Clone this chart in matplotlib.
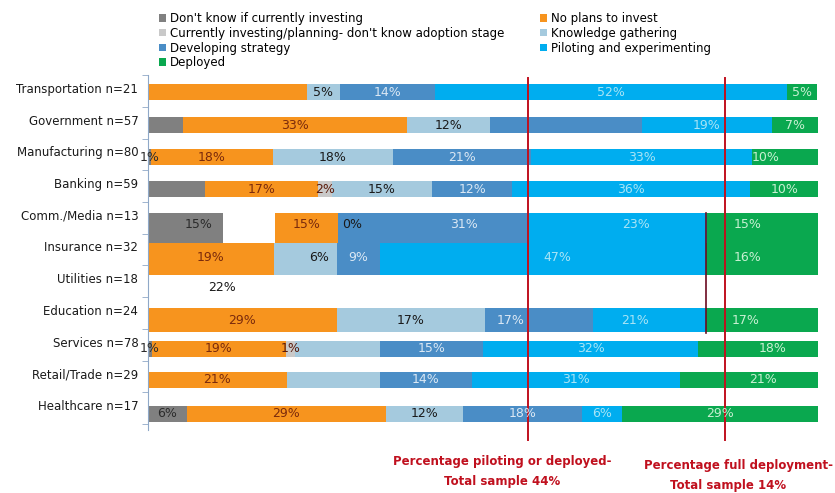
import numpy as np
import matplotlib
matplotlib.use('Agg')
import matplotlib.pyplot as plt
from matplotlib.patches import Patch

plt.rcParams['font.family'] = ['DejaVu Sans']

# Categories (top to bottom)
categories = ['Transportation n=21', 'Government n=57', 'Manufacturing n=80', 'Banking n=59',
              'Comm./Media n=13', 'Insurance n=32', 'Utilities n=18', 'Education n=24',
              'Services n=78', 'Retail/Trade n=29', 'Healthcare n=17']

# Segment widths (percent of bar)
dont_know   = [0,    5.2,  0.4,  8.5, 11.2, 0,    0, 0,    0.6, 0,    5.8]
blank_gap   = [0,    0,    0,    0,    7.8, 0,    0, 0,    0,   0,    0]
no_plans    = [23.7, 33.4, 18.3, 16.9, 9.4, 18.8, 0, 28.2, 20.0, 20.7, 29.7]
currently   = [0,    0,    0,    2.0,  0,    0,    0, 0,    1.3, 0,    0]
knowledge   = [4.9,  12.4, 17.8, 15.0, 0,    9.4,  0, 22.1, 12.7, 13.9, 11.5]
developing  = [14.3, 22.7, 20.6, 12.0, 28.5, 6.4,  0, 16.1, 15.4, 13.7, 17.8]
piloting    = [52.4, 19.4, 33.1, 35.5, 26.6, 48.7, 0, 16.9, 32.1, 31.1, 6.0]
deployed    = [4.6,  6.9,  9.9,  10.1, 16.5, 16.7, 0, 16.7, 17.9, 20.6, 29.2]

# Printed labels on the segments (as shown in the source, '' = none)
lbl_dont_know  = ['', '', '1%', '', '15%', '', '', '', '1%', '', '6%']
lbl_no_plans   = ['', '33%', '18%', '17%', '15%', '19%', '', '29%', '19%', '21%', '29%']
lbl_currently  = ['', '', '', '2%', '', '', '', '', '1%', '', '']
lbl_knowledge  = ['5%', '12%', '18%', '15%', '0%', '6%', '', '17%', '', '', '12%']
lbl_developing = ['14%', '', '21%', '12%', '31%', '9%', '', '17%', '15%', '14%', '18%']
lbl_piloting   = ['52%', '19%', '33%', '36%', '23%', '47%', '', '21%', '32%', '31%', '6%']
lbl_deployed   = ['5%', '7%', '10%', '10%', '15%', '16%', '', '17%', '18%', '21%', '29%']

utilities_note = '22%'
pilot_line = 56.7   # percentage piloting or deployed (total sample 44%)
deploy_line = 86.1  # percentage full deployment (total sample 14%)

# layout (row positions / heights in tick units)
ypos = [0.13, 1.17, 2.18, 3.19, 4.42, 5.39, 6.3, 7.32, 8.23, 9.21, 10.28]
heights = [0.5, 0.5, 0.5, 0.5, 0.95, 1.0, 0.5, 0.76, 0.5, 0.5, 0.5]
# label nudges (row, series index) -> shift in percent units, as placed in the source
label_shift = {(2, 7): -3.0, (4, 0): 2.0, (4, 4): 2.0, (4, 5): 4.5, (4, 6): 2.7, (4, 7): -2.2,
               (5, 4): 2.0, (5, 6): 2.1, (5, 7): -2.2, (7, 5): -4.3, (7, 6): -2.1,
               (7, 7): -2.5, (8, 7): 2.2, (9, 7): 2.1}
label_dy = {4: -0.1, 5: -0.05}

series = [
    ("Don't know if currently investing", dont_know, lbl_dont_know, '#808080', '#2b2b2b'),
    ('', blank_gap, None, 'white', None),
    ('No plans to invest', no_plans, lbl_no_plans, '#f7941e', '#7a2a0c'),
    ("Currently investing/planning- don't know adoption stage", currently, lbl_currently, '#c9c9c9', '#5a1a0a'),
    ('Knowledge gathering', knowledge, lbl_knowledge, '#a5cade', '#1a1a1a'),
    ('Developing strategy', developing, lbl_developing, '#4a8dc6', '#dbe8f4'),
    ('Piloting and experimenting', piloting, lbl_piloting, '#00adef', '#a8e4f6'),
    ('Deployed', deployed, lbl_deployed, '#0aa84f', '#c8f0d2'),
]

fig = plt.figure(figsize=(8.35, 4.93), dpi=100)
ax = fig.add_axes([148 / 835, 1 - 430 / 493, 670 / 835, (430 - 75) / 493])

left = np.zeros(len(categories))
for k, (name, vals, lbls, color, tcolor) in enumerate(series):
    vals = np.array(vals, dtype=float)
    ax.barh(ypos, vals, left=left, height=heights, color=color, edgecolor='none')
    if lbls is not None:
        for i, t in enumerate(lbls):
            if not t:
                continue
            x = left[i] + vals[i] / 2 + label_shift.get((i, k), 0)
            y = ypos[i] + label_dy.get(i, 0)
            ax.text(x, y, t, ha='center', va='center', fontsize=9, color=tcolor, zorder=6)
    left += vals

ax.text(11, ypos[6], utilities_note, ha='center', va='center', fontsize=9, color='#1a1a1a')

# reference lines
ax.plot([pilot_line, pilot_line], [-0.32, 11.1], color='#c0101e', lw=1.4, clip_on=False, zorder=5)
ax.plot([deploy_line, deploy_line], [-0.32, 11.1], color='#c0101e', lw=1.4, clip_on=False, zorder=5)
ax.plot([83.3, 83.3], [3.94, 7.73], color='#6b0a20', lw=1.2, zorder=5)

ax.set_xlim(0, 100)
ax.set_ylim(10.79, -0.41)
ax.set_yticks(range(len(categories)))
ax.set_yticklabels(categories, fontsize=8.5, color='#1a1a1a')
ax.tick_params(axis='y', which='major', length=0, pad=7)
ax.set_yticks(np.arange(-0.4, 10.8, 1.0), minor=True)
ax.tick_params(axis='y', which='minor', length=4, color='#8fa8c8', direction='out')
ax.set_xticks([])
for s in ['top', 'right', 'bottom']:
    ax.spines[s].set_visible(False)
ax.spines['left'].set_color('#8fa8c8')

# legends
def handles(items):
    return [Patch(facecolor=c, edgecolor='none', label=n) for n, c in items]

leg_kw = dict(loc='upper left', frameon=False, fontsize=8.5, handlelength=0.6, handleheight=0.6,
              handletextpad=0.35, labelspacing=0.15, borderpad=0, borderaxespad=0)
fig.legend(handles=handles([(series[0][0], series[0][3]), (series[3][0], series[3][3]),
                            (series[5][0], series[5][3]), (series[7][0], series[7][3])]),
           bbox_to_anchor=(159 / 835, 1 - 12 / 493), **leg_kw)
fig.legend(handles=handles([(series[2][0], series[2][3]), (series[4][0], series[4][3]),
                            (series[6][0], series[6][3])]),
           bbox_to_anchor=(540 / 835, 1 - 12 / 493), **leg_kw)

# annotations
red_kw = dict(ha='center', va='center', fontsize=8.5, color='#c0101e', fontweight='bold')
fig.text(502 / 835, 1 - 461 / 493, 'Percentage piloting or deployed-', **red_kw)
fig.text(502 / 835, 1 - 481 / 493, 'Total sample 44%', **red_kw)
fig.text(738 / 835, 1 - 465 / 493, 'Percentage full deployment-', **red_kw)
fig.text(728 / 835, 1 - 486 / 493, 'Total sample 14%', **red_kw)

fig.savefig('out.png', dpi=100)
